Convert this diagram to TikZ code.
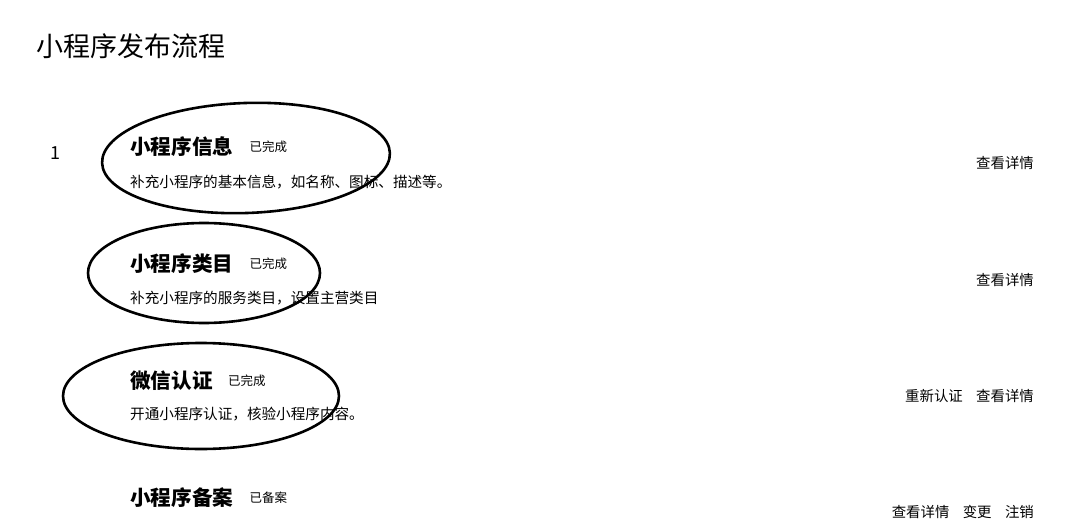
\documentclass[tikz,border=0pt]{standalone}
\usepackage{fontspec}
\setmainfont{Noto Sans CJK SC}
\usetikzlibrary{positioning}

\begin{document}
\begin{tikzpicture}[
    x=1pt, y=-1pt,
    heading/.style={anchor=west, inner sep=0pt, font=\fontsize{27}{31}\selectfont},
    stepname/.style={anchor=west, inner sep=0pt, font=\fontsize{20.6}{24}\selectfont\bfseries},
    status/.style={anchor=west, inner sep=0pt, font=\fontsize{12.5}{14}\selectfont},
    desc/.style={anchor=west, inner sep=0pt, font=\fontsize{14.6}{17}\selectfont},
    action/.style={anchor=east, inner sep=0pt, font=\fontsize{14.4}{17}\selectfont},
    circlemark/.style={line width=2.6pt, black}
]
\useasboundingbox (0,0) rectangle (1080,522);

% Title
\node[heading] (title) at (36,46) {小程序发布流程};
\node[anchor=west, inner sep=0pt, font=\fontsize{18}{20}\selectfont] (num) at (50,153) {1};

% Step 1: info
\node[stepname] (info) at (130,147) {小程序信息};
\node[status, right=16pt of info] (infost) {已完成};
\node[desc] (infodesc) at (130,182) {补充小程序的基本信息，如名称、图标、描述等。};
\node[action] (infoview) at (1034,163) {查看详情};

% Step 2: category
\node[stepname] (cat) at (130,264) {小程序类目};
\node[status, right=16pt of cat] (catst) {已完成};
\node[desc] (catdesc) at (130,298) {补充小程序的服务类目，设置主营类目};
\node[action] (catview) at (1034,280) {查看详情};

% Step 3: verification
\node[stepname] (auth) at (130,381) {微信认证};
\node[status, right=15pt of auth] (authst) {已完成};
\node[desc] (authdesc) at (130,414) {开通小程序认证，核验小程序内容。};
\node[action] (authview) at (1034,396) {查看详情};
\node[action, left=13pt of authview] (reauth) {重新认证};

% Step 4: filing
\node[stepname] (filing) at (130,498) {小程序备案};
\node[status, right=16pt of filing] (filingst) {已备案};
\node[action] (cancel) at (1034,512) {注销};
\node[action, left=13pt of cancel] (change) {变更};
\node[action, left=13pt of change] (filingview) {查看详情};

% Hand-drawn marks
\draw[circlemark, rotate around={2:(246,158)}] (246,158) ellipse (144 and 55);
\draw[circlemark] (204,273) ellipse (116 and 50);
\draw[circlemark] (201,396) ellipse (138 and 53);

\end{tikzpicture}
\end{document}
